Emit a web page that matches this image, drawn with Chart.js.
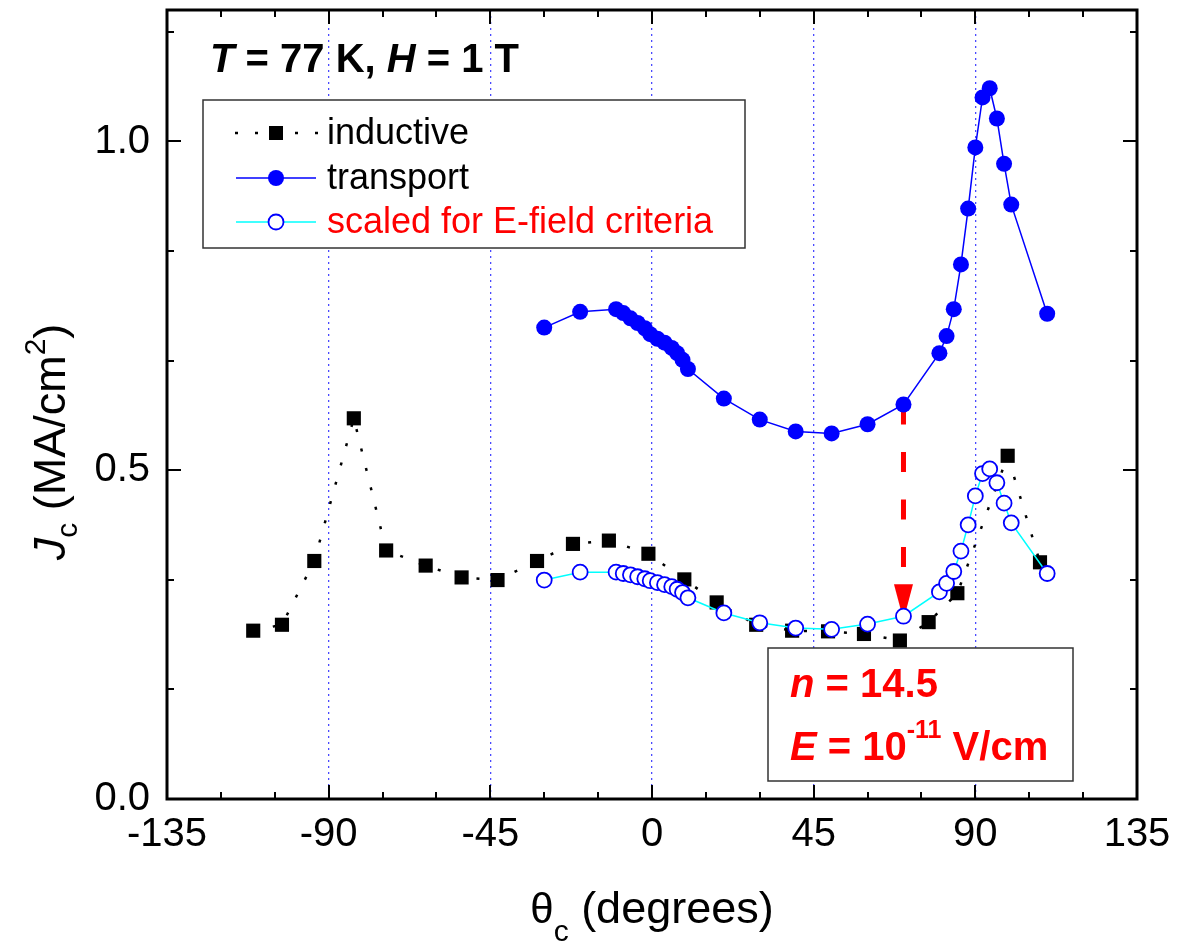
<!DOCTYPE html>
<html>
<head>
<meta charset="utf-8">
<script src="https://cdn.jsdelivr.net/npm/chart.js@4.4.1/dist/chart.umd.min.js"></script>
<style>html,body{margin:0;padding:0;background:#fff;}canvas{display:block;}</style>
</head>
<body>
<canvas id="c" width="1181" height="945"></canvas>
<script>
const FONT = "'Liberation Sans', Arial, Helvetica, sans-serif";

// ---- data ----
const inductiveTheta = [-111, -103, -94, -83, -74, -63, -53, -43, -32, -22, -12, -1, 9, 18, 29, 39, 49, 59, 69, 77, 85, 99, 108];
const inductiveJc    = [0.256, 0.265, 0.362, 0.579, 0.378, 0.355, 0.337, 0.333, 0.362, 0.388, 0.393, 0.373, 0.334, 0.299, 0.265, 0.256, 0.255, 0.251, 0.241, 0.269, 0.313, 0.522, 0.360];

const transportTheta = [-30, -20, -10, -8, -6, -4, -2, -0.5, 1.5, 3.5, 5.5, 7, 8.5, 10, 20, 30, 40, 50, 60, 70, 80, 82, 84, 86, 88, 90, 92, 94, 96, 98, 100, 110];
const transportJc    = [0.717, 0.741, 0.745, 0.739, 0.731, 0.724, 0.716, 0.707, 0.700, 0.694, 0.686, 0.678, 0.668, 0.654, 0.609, 0.577, 0.559, 0.556, 0.570, 0.600, 0.678, 0.704, 0.745, 0.813, 0.898, 0.991, 1.067, 1.081, 1.035, 0.966, 0.904, 0.738];

const scaledTheta = [-30, -20, -10, -8, -6, -4, -2, -0.5, 1.5, 3.5, 5.5, 7, 8.5, 10, 20, 30, 40, 50, 60, 70, 80, 82, 84, 86, 88, 90, 92, 94, 96, 98, 100, 110];
const scaledJc    = [0.333, 0.345, 0.345, 0.343, 0.341, 0.338, 0.335, 0.332, 0.329, 0.326, 0.323, 0.319, 0.314, 0.306, 0.283, 0.268, 0.260, 0.258, 0.266, 0.278, 0.315, 0.328, 0.346, 0.377, 0.417, 0.461, 0.495, 0.502, 0.481, 0.450, 0.420, 0.343];

const seriesNames = ['inductive', 'transport', 'scaled for E-field criteria'];
const xTickValues = [-135, -90, -45, 0, 45, 90, 135];
const yTickValues = [0.0, 0.5, 1.0];
const xMinorStep = 15;
const yMinorStep = 1 / 6;
const arrowTheta = 70, arrowFromJc = 0.600, arrowToJc = 0.278;

function pts(xs, ys) { return xs.map((x, i) => ({ x: x, y: ys[i] })); }

function drawMarker(ctx, kind, x, y) {
  ctx.save();
  if (kind === 'square') {
    ctx.fillStyle = '#000';
    ctx.fillRect(x - 7, y - 7, 14, 14);
  } else if (kind === 'filled') {
    ctx.fillStyle = '#0000ff';
    ctx.beginPath(); ctx.arc(x, y, 8, 0, Math.PI * 2); ctx.fill();
  } else {
    ctx.fillStyle = '#fff';
    ctx.strokeStyle = '#0000ff';
    ctx.lineWidth = 1.8;
    ctx.beginPath(); ctx.arc(x, y, 7.5, 0, Math.PI * 2); ctx.fill(); ctx.stroke();
  }
  ctx.restore();
}

function drawRuns(ctx, runs, x, y, align) {
  let total = 0;
  runs.forEach(r => { ctx.font = r.font; r.w = ctx.measureText(r.t).width; total += r.w; });
  let cx = align === 'center' ? x - total / 2 : x;
  runs.forEach(r => {
    ctx.font = r.font;
    ctx.fillText(r.t, cx, y + (r.dy || 0));
    cx += r.w;
  });
}

const decorPlugin = {
  id: 'decor',
  beforeDatasetsDraw(chart) {
    const { ctx, scales: { x, y } } = chart;
    const px = x.getPixelForValue(arrowTheta);
    const y0 = y.getPixelForValue(arrowFromJc);
    const y1 = y.getPixelForValue(arrowToJc);
    const headLen = 32, headW = 19;
    ctx.save();
    ctx.strokeStyle = '#ff0000';
    ctx.lineWidth = 5;
    ctx.setLineDash([20, 27.5]);
    ctx.beginPath(); ctx.moveTo(px, y0); ctx.lineTo(px, y1 - headLen); ctx.stroke();
    ctx.setLineDash([]);
    ctx.fillStyle = '#ff0000';
    ctx.beginPath();
    ctx.moveTo(px - headW / 2, y1 - headLen);
    ctx.lineTo(px + headW / 2, y1 - headLen);
    ctx.lineTo(px + 1, y1);
    ctx.lineTo(px - 1, y1);
    ctx.closePath(); ctx.fill();
    ctx.restore();
  },
  afterDatasetsDraw(chart) {
    const { ctx, chartArea: a, scales: { x, y } } = chart;
    ctx.save();
    ctx.strokeStyle = '#000';
    ctx.lineWidth = 2;
    for (let v = x.min; v <= x.max + 1e-9; v += xMinorStep) {
      const px = Math.round(x.getPixelForValue(v));
      const major = Math.abs(v % 45) < 1e-9;
      const len = major ? 14 : 7;
      ctx.beginPath();
      ctx.moveTo(px, a.bottom); ctx.lineTo(px, a.bottom - len);
      ctx.moveTo(px, a.top); ctx.lineTo(px, a.top + len);
      ctx.stroke();
    }
    for (let k = 0; k * yMinorStep <= y.max + 1e-9; k++) {
      const py = Math.round(y.getPixelForValue(k * yMinorStep));
      const len = (k % 3 === 0) ? 14 : 7;
      ctx.beginPath();
      ctx.moveTo(a.left, py); ctx.lineTo(a.left + len, py);
      ctx.moveTo(a.right, py); ctx.lineTo(a.right - len, py);
      ctx.stroke();
    }
    ctx.lineWidth = 3;
    ctx.strokeRect(a.left, a.top, a.right - a.left, a.bottom - a.top);
    ctx.restore();
  },
  afterDraw(chart) {
    const { ctx, chartArea: a } = chart;
    ctx.save();
    ctx.textBaseline = 'alphabetic';
    ctx.fillStyle = '#000';
    drawRuns(ctx, [
      { t: 'T', font: 'italic bold 40px ' + FONT },
      { t: ' = 77 K, ', font: 'bold 40px ' + FONT },
      { t: 'H', font: 'italic bold 40px ' + FONT },
      { t: ' = 1 T', font: 'bold 40px ' + FONT }
    ], 210, 72, 'left');

    ctx.fillStyle = '#fff';
    ctx.fillRect(203, 100, 542, 148);
    ctx.strokeStyle = '#333';
    ctx.lineWidth = 1.5;
    ctx.strokeRect(203, 100, 542, 148);
    const rows = [133, 178, 222];
    ctx.strokeStyle = '#000'; ctx.lineWidth = 2.5; ctx.setLineDash([3, 17]);
    ctx.beginPath(); ctx.moveTo(235, rows[0]); ctx.lineTo(318, rows[0]); ctx.stroke();
    ctx.setLineDash([]);
    drawMarker(ctx, 'square', 276, rows[0]);
    ctx.strokeStyle = '#0000ff'; ctx.lineWidth = 1.5;
    ctx.beginPath(); ctx.moveTo(236, rows[1]); ctx.lineTo(316, rows[1]); ctx.stroke();
    drawMarker(ctx, 'filled', 276, rows[1]);
    ctx.strokeStyle = '#00ffff'; ctx.lineWidth = 1.5;
    ctx.beginPath(); ctx.moveTo(236, rows[2]); ctx.lineTo(316, rows[2]); ctx.stroke();
    drawMarker(ctx, 'open', 276, rows[2]);
    ctx.font = '36px ' + FONT;
    ctx.textBaseline = 'middle';
    ctx.fillStyle = '#000';
    ctx.fillText(seriesNames[0], 327, rows[0] + 1);
    ctx.fillText(seriesNames[1], 327, rows[1] + 1);
    ctx.fillStyle = '#ff0000';
    ctx.fillText(seriesNames[2], 327, rows[2] + 1);

    ctx.textBaseline = 'alphabetic';
    ctx.fillStyle = '#fff';
    ctx.fillRect(768, 648, 305, 133);
    ctx.strokeStyle = '#333';
    ctx.lineWidth = 1.5;
    ctx.strokeRect(768, 648, 305, 133);
    ctx.fillStyle = '#ff0000';
    drawRuns(ctx, [
      { t: 'n', font: 'italic bold 40px ' + FONT },
      { t: ' = 14.5', font: 'bold 40px ' + FONT }
    ], 790, 697, 'left');
    drawRuns(ctx, [
      { t: 'E', font: 'italic bold 40px ' + FONT },
      { t: ' = 10', font: 'bold 40px ' + FONT },
      { t: '-11', font: 'bold 25px ' + FONT, dy: -22 },
      { t: ' V/cm', font: 'bold 40px ' + FONT }
    ], 790, 760, 'left');

    ctx.fillStyle = '#000';
    drawRuns(ctx, [
      { t: '\u03B8', font: '42px ' + FONT },
      { t: 'c', font: '30px ' + FONT, dy: 18 },
      { t: ' (degrees)', font: '45px ' + FONT }
    ], (a.left + a.right) / 2, 923, 'center');

    ctx.translate(65, 442);
    ctx.rotate(-Math.PI / 2);
    drawRuns(ctx, [
      { t: 'J', font: 'italic 45px ' + FONT },
      { t: 'c', font: '30px ' + FONT, dy: 12 },
      { t: ' (MA/cm', font: '45px ' + FONT },
      { t: '2', font: '30px ' + FONT, dy: -20 },
      { t: ')', font: '45px ' + FONT }
    ], 0, 0, 'center');
    ctx.restore();
  }
};

new Chart(document.getElementById('c'), {
  type: 'scatter',
  data: {
    datasets: [
      {
        label: seriesNames[2],
        data: pts(scaledTheta, scaledJc),
        showLine: true,
        borderColor: '#00ffff',
        borderWidth: 1.5,
        pointRadius: 7.5,
        pointBackgroundColor: '#ffffff',
        pointBorderColor: '#0000ff',
        pointBorderWidth: 1.8,
        order: 0
      },
      {
        label: seriesNames[1],
        data: pts(transportTheta, transportJc),
        showLine: true,
        borderColor: '#0000ff',
        borderWidth: 1.5,
        pointRadius: 8,
        pointBackgroundColor: '#0000ff',
        pointBorderColor: '#0000ff',
        pointBorderWidth: 0,
        order: 1
      },
      {
        label: seriesNames[0],
        data: pts(inductiveTheta, inductiveJc),
        showLine: true,
        borderColor: '#000000',
        borderWidth: 2.5,
        borderDash: [3, 17],
        pointStyle: 'rect',
        pointRadius: 10,
        pointBackgroundColor: '#000000',
        pointBorderColor: '#000000',
        pointBorderWidth: 0,
        order: 2
      }
    ]
  },
  options: {
    responsive: false,
    animation: false,
    devicePixelRatio: 1,
    events: [],
    layout: { padding: { top: 7, right: 44, left: 0, bottom: 0 } },
    plugins: { legend: { display: false }, tooltip: { enabled: false } },
    scales: {
      x: {
        type: 'linear',
        min: -135, max: 135,
        afterFit: s => { s.height = 146; s.paddingLeft = 0; s.paddingRight = 0; s.paddingTop = 0; s.paddingBottom = 0; },
        afterBuildTicks: s => { s.ticks = xTickValues.map(v => ({ value: v })); },
        ticks: {
          stepSize: 45,
          color: '#000',
          padding: 12,
          maxRotation: 0,
          autoSkip: false,
          font: { family: FONT, size: 40 },
          callback: v => String(v)
        },
        grid: {
          drawTicks: false,
          lineWidth: 1.3,
          color: c => (c.tick && Math.abs(c.tick.value) === 135) ? 'rgba(0,0,0,0)' : '#4a4aff'
        },
        border: { display: false, dash: [2, 4] }
      },
      y: {
        type: 'linear',
        min: 0, max: 1.2,
        afterFit: s => { s.width = 167; s.paddingTop = 0; s.paddingBottom = 0; s.paddingLeft = 0; s.paddingRight = 0; },
        afterBuildTicks: s => { s.ticks = yTickValues.map(v => ({ value: v })); },
        ticks: {
          color: '#000',
          padding: 17,
          font: { family: FONT, size: 40 },
          callback: v => Number(v).toFixed(1)
        },
        grid: { display: false, drawTicks: false },
        border: { display: false }
      }
    }
  },
  plugins: [decorPlugin]
});
</script>
</body>
</html>
